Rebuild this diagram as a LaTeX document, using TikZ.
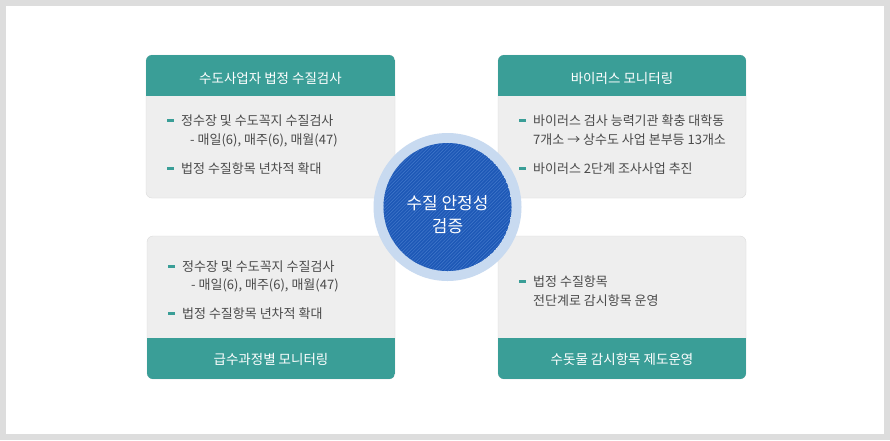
\documentclass[tikz,border=0pt]{standalone}
\usepackage{fontspec}
\setmainfont{Noto Sans CJK KR}
\definecolor{frame}{HTML}{DDDDDD}
\definecolor{headc}{HTML}{3A9E97}
\definecolor{boxbg}{HTML}{EEEEEE}
\definecolor{ringc}{HTML}{C8DAF0}
\definecolor{darkc}{HTML}{1D58B6}
\definecolor{stripec}{HTML}{3E74C8}
\definecolor{txtc}{HTML}{4A4A4A}
\tikzset{
  boxbody/.style={fill=boxbg, draw=boxbg!92!black, line width=0.4pt, rounded corners=6pt},
  headtext/.style={text=white, font=\fontsize{13.5}{15}\selectfont, anchor=base, inner sep=0pt},
  bodytext/.style={text=txtc, font=\fontsize{13}{15}\selectfont, anchor=base west, inner sep=0pt},
  bulletmark/.style={fill=headc},
  circtext/.style={text=white, font=\fontsize{17}{19}\selectfont, anchor=base, inner sep=0pt},
  stripeline/.style={draw=stripec, line width=0.6pt}
}
\newcommand{\bul}[2]{\fill[bulletmark] (#1,#2-1.5) rectangle (#1+7,#2+1.5);}
\begin{document}
\begin{tikzpicture}[x=1pt,y=-1pt]
\useasboundingbox (0,0) rectangle (890,440);
\fill[frame] (0,0) rectangle (890,440);
\fill[white] (6,6) rectangle (884,434);

% top-left box
\path[boxbody] (146,55) rectangle (395,198);
\begin{scope}
\clip[rounded corners=6pt] (146,55) rectangle (395,198);
\fill[headc] (146,55) rectangle (395,96);
\end{scope}
\node[headtext] (h1) at (270.5,83) {수도사업자 법정 수질검사};
\bul{167}{120}
\node[bodytext] (a1) at (181,125) {정수장 및 수도꼭지 수질검사};
\node[bodytext] (a2) at (190,144) {- 매일(6), 매주(6), 매월(47)};
\bul{167}{168}
\node[bodytext] (a3) at (181,173) {법정 수질항목 년차적 확대};

% top-right box
\path[boxbody] (498,55) rectangle (746,198);
\begin{scope}
\clip[rounded corners=6pt] (498,55) rectangle (746,198);
\fill[headc] (498,55) rectangle (746,96);
\end{scope}
\node[headtext] (h2) at (622,83) {바이러스 모니터링};
\bul{519}{120}
\node[bodytext] (b1) at (533,125) {바이러스 검사 능력기관 확충 대학동};
\node[bodytext] (b2) at (533,144) {7개소 → 상수도 사업 본부등 13개소};
\bul{519}{168}
\node[bodytext] (b3) at (533,173) {바이러스 2단계 조사사업 추진};

% bottom-left box
\path[boxbody] (147,236) rectangle (395,379);
\begin{scope}
\clip[rounded corners=6pt] (147,236) rectangle (395,379);
\fill[headc] (147,338) rectangle (395,379);
\end{scope}
\node[headtext] (h3) at (271,364.5) {급수과정별 모니터링};
\bul{168}{266}
\node[bodytext] (c1) at (182,271) {정수장 및 수도꼭지 수질검사};
\node[bodytext] (c2) at (191,289.5) {- 매일(6), 매주(6), 매월(47)};
\bul{168}{313}
\node[bodytext] (c3) at (182,318) {법정 수질항목 년차적 확대};

% bottom-right box
\path[boxbody] (498,236) rectangle (746,379);
\begin{scope}
\clip[rounded corners=6pt] (498,236) rectangle (746,379);
\fill[headc] (498,338) rectangle (746,379);
\end{scope}
\node[headtext] (h4) at (622,364.5) {수돗물 감시항목 제도운영};
\bul{519}{281}
\node[bodytext] (d1) at (533,286) {법정 수질항목};
\node[bodytext] (d2) at (533,305.5) {전단계로 감시항목 운영};

% centre circle
\fill[ringc] (447.5,207) circle (74pt);
\begin{scope}
\clip (447.5,207) circle (64pt);
\fill[darkc] (447.5,207) circle (64pt);
\foreach \i in {-150,-146.6,...,150}
  \draw[stripeline] (447.5+\i-80,207+80) -- (447.5+\i+80,207-80);
\end{scope}
\node[circtext] (m1) at (447.5,209.5) {수질 안정성};
\node[circtext] (m2) at (447.5,232) {검증};
\end{tikzpicture}
\end{document}
